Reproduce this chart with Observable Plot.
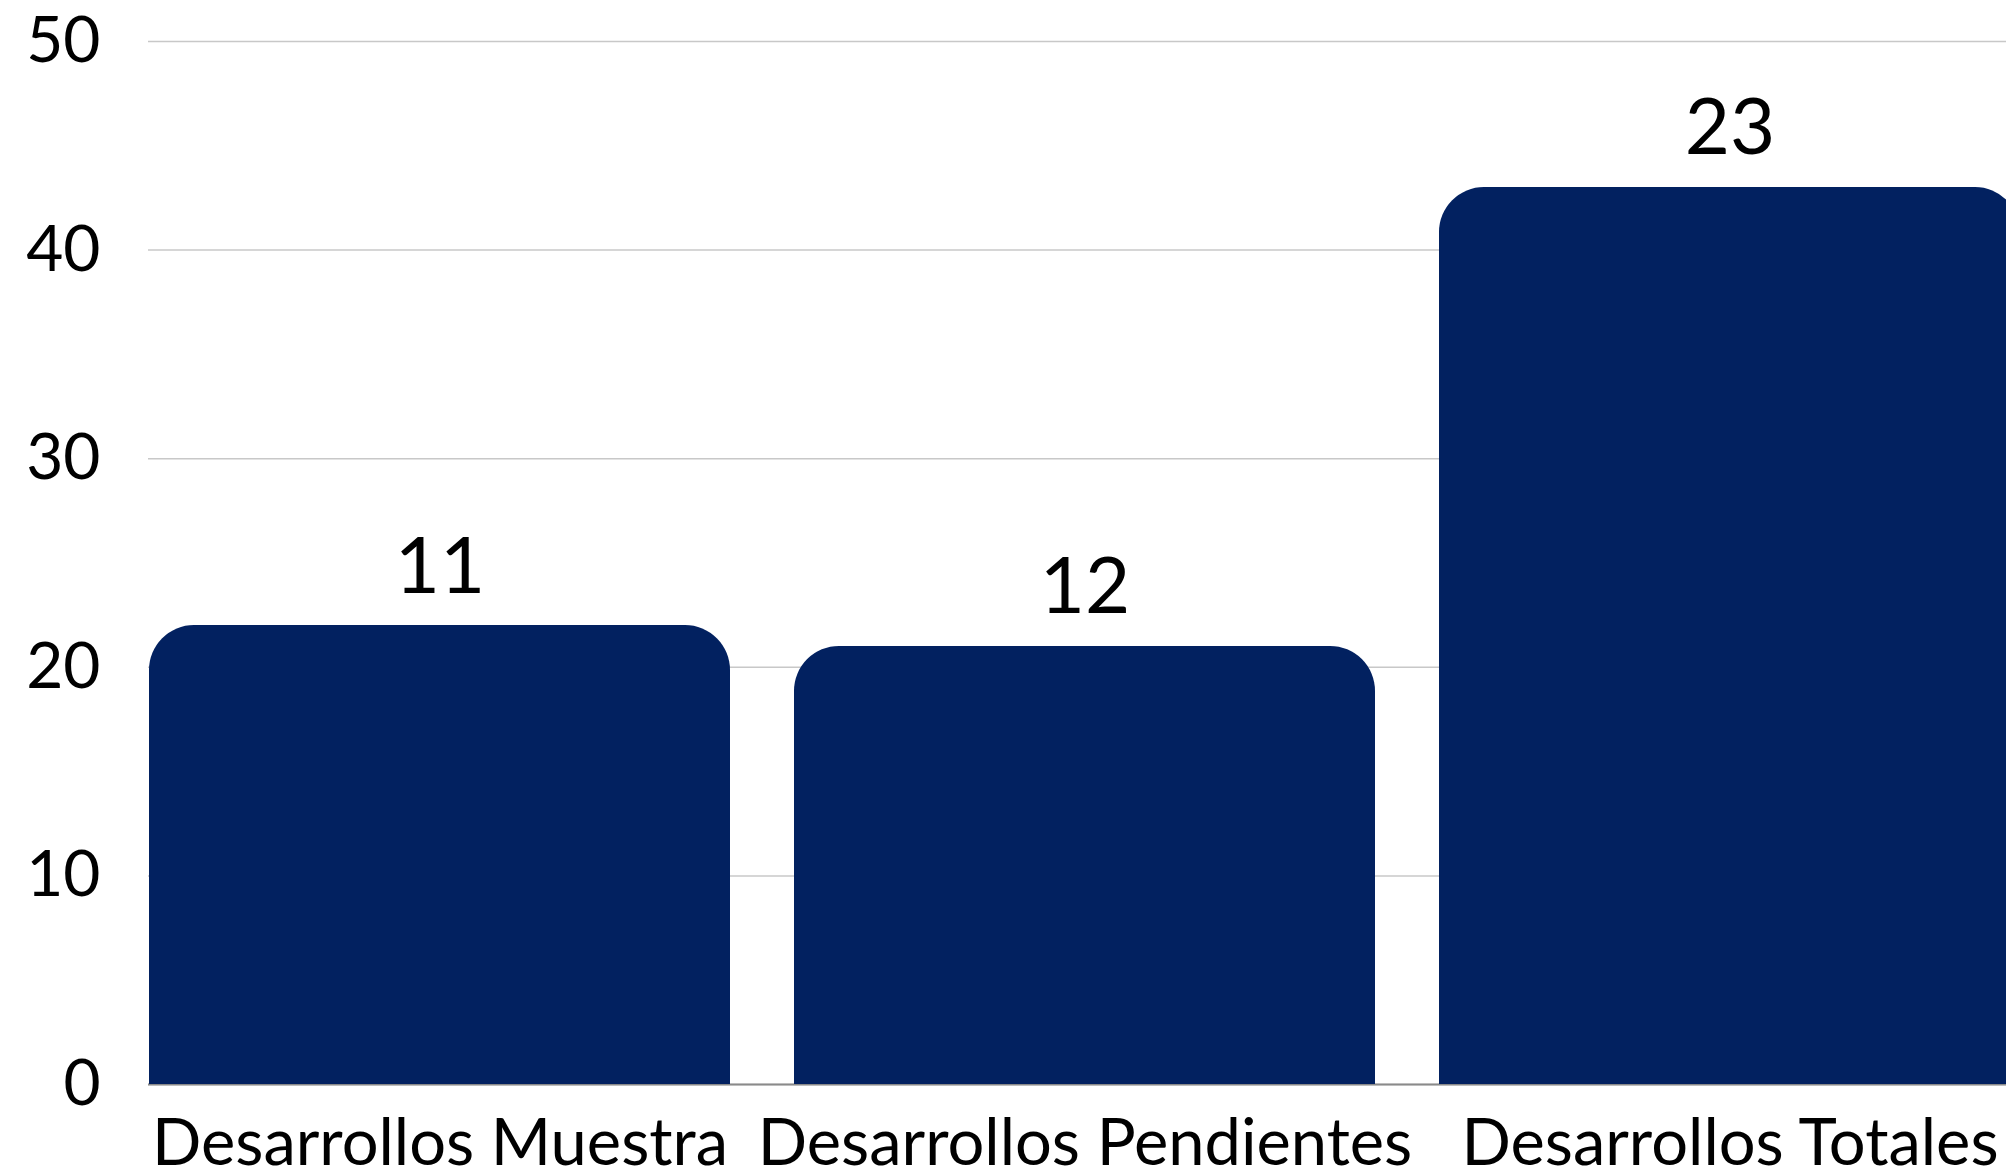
<!DOCTYPE html>
<html>
<head>
<meta charset="utf-8">
<script src="https://cdn.jsdelivr.net/npm/d3@7"></script>
<script src="https://cdn.jsdelivr.net/npm/@observablehq/plot@0.6"></script>
<style>
  html, body { margin: 0; padding: 0; background: #fff; overflow: hidden; }
  #chart svg { display: block; max-width: none !important; }
</style>
</head>
<body>
<div id="chart"></div>
<script>
const categories = ["Desarrollos Muestra", "Desarrollos Pendientes", "Desarrollos Totales"];
const values = [22, 21, 43];
const valueLabels = ["11", "12", "23"];
const yTicks = [0, 10, 20, 30, 40, 50];

const data = categories.map((c, i) => ({category: c, value: values[i], label: valueLabels[i]}));
const navy = "#022160";

const chart = Plot.plot({
  width: 2040,
  height: 1169,
  marginLeft: 148,
  marginRight: 19,
  marginTop: 41,
  marginBottom: 85,
  style: {fontFamily: "Lato, sans-serif", color: "#000", background: "transparent", maxWidth: "none"},
  x: {domain: categories, paddingInner: 0.1, paddingOuter: 0, round: true, label: null},
  y: {domain: [0, 50], ticks: yTicks, label: null},
  marks: [
    Plot.gridY(yTicks, {stroke: "#c8c8c8", strokeOpacity: 1, strokeWidth: 1.5}),
    Plot.ruleY([0], {stroke: "#8a8a8a", strokeWidth: 2}),
    Plot.barY(data, {x: "category", y: "value", fill: navy, rx: 45, ry: 45}),
    Plot.barY(data, {x: "category", y1: 0, y2: d => d.value / 2, fill: navy, shapeRendering: "crispEdges"}),
    Plot.text(data, {x: "category", y: "value", text: "label", dy: -58, lineAnchor: "middle", fontSize: 78, fill: "#000"}),
    Plot.axisY({ticks: yTicks, tickSize: 0, tickPadding: 48, fontSize: 64, label: null}),
    Plot.axisX({tickSize: 0, tickPadding: 34, fontSize: 65, label: null})
  ]
});
document.getElementById("chart").appendChild(chart);
</script>
</body>
</html>
